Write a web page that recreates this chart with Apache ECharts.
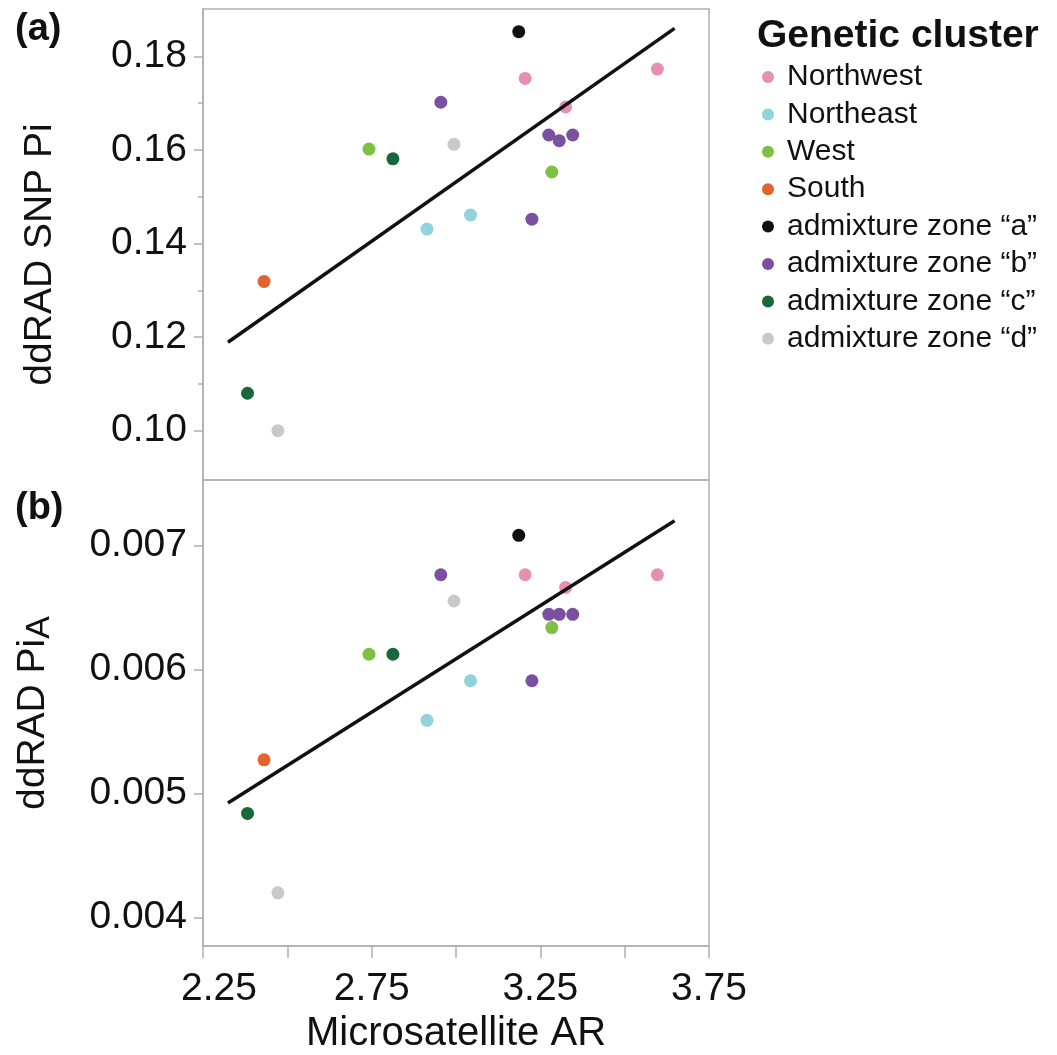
<!DOCTYPE html>
<html>
<head>
<meta charset="utf-8">
<script src="https://cdn.jsdelivr.net/npm/echarts@6/dist/echarts.min.js"></script>
<style>
  html, body { margin: 0; padding: 0; background: #fff; }
  #chart { width: 1057px; height: 1055px; }
</style>
</head>
<body>
<div id="chart"></div>
<script>
// cluster names and colours
const clusterNames = ['Northwest', 'Northeast', 'West', 'South',
  'admixture zone \u201ca\u201d', 'admixture zone \u201cb\u201d',
  'admixture zone \u201cc\u201d', 'admixture zone \u201cd\u201d'];
const clusterColors = ['#e68fb6', '#92d2dc', '#7dc042', '#e2642a', '#111111', '#7a50a0', '#18683a', '#c9c9c9'];

// microsatellite allelic richness per population, grouped by cluster
const northwestAR = [3.205, 3.597, 3.325];
const northeastAR = [2.914, 3.043];
const westAR = [2.742, 3.284];
const southAR = [2.431];
const zoneAAR = [3.186];
const zoneBAR = [2.955, 3.275, 3.306, 3.346, 3.225];
const zoneCAR = [2.813, 2.382];
const zoneDAR = [2.994, 2.472];

// (a) ddRAD SNP Pi
const northwestPi = [0.1753, 0.1773, 0.1692];
const northeastPi = [0.1431, 0.1461];
const westPi = [0.1602, 0.1553];
const southPi = [0.1319];
const zoneAPi = [0.1853];
const zoneBPi = [0.1702, 0.1632, 0.1620, 0.1632, 0.1452];
const zoneCPi = [0.1581, 0.1080];
const zoneDPi = [0.1612, 0.1000];

// (b) ddRAD PiA
const northwestPiA = [0.006765, 0.006765, 0.006663];
const northeastPiA = [0.005591, 0.005910];
const westPiA = [0.006124, 0.006339];
const southPiA = [0.005272];
const zoneAPiA = [0.007083];
const zoneBPiA = [0.006765, 0.006446, 0.006446, 0.006446, 0.005910];
const zoneCPiA = [0.006124, 0.004840];
const zoneDPiA = [0.006553, 0.004200];

// fitted lines (end points)
const fitAR = [2.324, 3.648];
const fitPi = [0.1189, 0.1860];
const fitPiA = [0.004924, 0.007200];

// ticks
const xTicks = [2.25, 2.75, 3.25, 3.75];
const piTicks = [0.10, 0.12, 0.14, 0.16, 0.18];
const piMinorTicks = [0.11, 0.13, 0.15, 0.17];
const piATicks = [0.004, 0.005, 0.006, 0.007];

const arGroups = [northwestAR, northeastAR, westAR, southAR, zoneAAR, zoneBAR, zoneCAR, zoneDAR];
const piGroups = [northwestPi, northeastPi, westPi, southPi, zoneAPi, zoneBPi, zoneCPi, zoneDPi];
const piAGroups = [northwestPiA, northeastPiA, westPiA, southPiA, zoneAPiA, zoneBPiA, zoneCPiA, zoneDPiA];

const FONT = '"Liberation Sans", Arial, Helvetica, sans-serif';
const AXIS_GRAY = '#b0b0b0';

const zip = (xs, ys) => xs.map((x, i) => [x, ys[i]]);

const series = [];
clusterNames.forEach((name, i) => {
  const common = {
    name,
    type: 'scatter',
    symbol: 'circle',
    symbolSize: 13,
    itemStyle: { color: clusterColors[i], opacity: 1 },
    z: 2
  };
  series.push({ ...common, xAxisIndex: 0, yAxisIndex: 0, data: zip(arGroups[i], piGroups[i]) });
  series.push({ ...common, xAxisIndex: 1, yAxisIndex: 2, data: zip(arGroups[i], piAGroups[i]) });
});
series.push({
  type: 'line', xAxisIndex: 0, yAxisIndex: 0, data: zip(fitAR, fitPi),
  symbol: 'none', lineStyle: { color: '#111', width: 3.5 }, z: 5
});
series.push({
  type: 'line', xAxisIndex: 1, yAxisIndex: 2, data: zip(fitAR, fitPiA),
  symbol: 'none', lineStyle: { color: '#111', width: 3.5 }, z: 5
});

const chart = echarts.init(document.getElementById('chart'));

const option = {
  animation: false,
  backgroundColor: '#fff',
  textStyle: { fontFamily: FONT },
  title: [
    { text: '(a)', left: 10, top: 6, textStyle: { fontFamily: FONT, fontSize: 38, fontWeight: 'bold', color: '#111' } },
    { text: '(b)', left: 10, top: 485, textStyle: { fontFamily: FONT, fontSize: 38, fontWeight: 'bold', color: '#111' } },
    { text: 'Genetic cluster', left: 752, top: 12, textStyle: { fontFamily: FONT, fontSize: 39, fontWeight: 'bold', color: '#111' } }
  ],
  legend: {
    data: clusterNames,
    orient: 'vertical',
    left: 757,
    top: 57,
    icon: 'circle',
    itemWidth: 12,
    itemHeight: 12,
    itemGap: 7.4,
    selectedMode: false,
    textStyle: { fontFamily: FONT, fontSize: 30, lineHeight: 30, color: '#111', padding: [0, 0, 0, 8] }
  },
  grid: [
    { left: 203, top: 9, width: 506, height: 471, show: true, borderColor: AXIS_GRAY, borderWidth: 1.5 },
    { left: 203, top: 480, width: 506, height: 467, show: true, borderColor: AXIS_GRAY, borderWidth: 1.5 }
  ],
  xAxis: [
    {
      gridIndex: 0, type: 'value', min: 2.25, max: 3.75,
      axisLine: { show: false }, axisTick: { show: false }, axisLabel: { show: false }, splitLine: { show: false }
    },
    {
      gridIndex: 1, type: 'value', min: 2.25, max: 3.75, interval: 0.25,
      name: 'Microsatellite AR', nameLocation: 'middle', nameGap: 68,
      nameTextStyle: { fontFamily: FONT, fontSize: 40, color: '#111' },
      axisLine: { show: true, lineStyle: { color: AXIS_GRAY, width: 1.5 } },
      axisTick: { show: true, length: 12, lineStyle: { color: AXIS_GRAY, width: 1.5 } },
      axisLabel: {
        customValues: xTicks, margin: 24, fontFamily: FONT, fontSize: 39, color: '#111',
        formatter: v => (v === xTicks[0] ? '{first|' + v.toFixed(2) + '}' : v.toFixed(2)),
        rich: { first: { fontFamily: FONT, fontSize: 39, color: '#111', padding: [0, 0, 0, 32] } }
      },
      splitLine: { show: false }
    }
  ],
  yAxis: [
    {
      gridIndex: 0, type: 'value', min: 0.08945, max: 0.19014,
      name: 'ddRAD SNP Pi', nameLocation: 'middle', nameGap: 143,
      nameTextStyle: { fontFamily: FONT, fontSize: 39, color: '#111', padding: [0, 20, 0, 0] },
      axisLine: { show: true, lineStyle: { color: AXIS_GRAY, width: 1.5 } },
      axisTick: { show: true, customValues: piTicks, length: 9, lineStyle: { color: AXIS_GRAY, width: 1.5 } },
      axisLabel: { customValues: piTicks, margin: 16, fontFamily: FONT, fontSize: 39, color: '#111', formatter: v => v.toFixed(2) },
      splitLine: { show: false }
    },
    {
      gridIndex: 0, type: 'value', min: 0.08945, max: 0.19014, position: 'left',
      axisLine: { show: false },
      axisTick: { show: true, customValues: piMinorTicks, length: 5, lineStyle: { color: AXIS_GRAY, width: 1.5 } },
      axisLabel: { show: false },
      splitLine: { show: false }
    },
    {
      gridIndex: 1, type: 'value', min: 0.003771, max: 0.007529,
      name: '{n|ddRAD Pi}{s|A}', nameLocation: 'middle', nameGap: 143,
      nameTextStyle: {
        fontFamily: FONT, fontSize: 39, color: '#111',
        rich: {
          n: { fontFamily: FONT, fontSize: 39, color: '#111', lineHeight: 46, verticalAlign: 'top' },
          s: { fontFamily: FONT, fontSize: 34, color: '#111', lineHeight: 46, verticalAlign: 'top', padding: [9, 0, 0, 0] }
        }
      },
      axisLine: { show: true, lineStyle: { color: AXIS_GRAY, width: 1.5 } },
      axisTick: { show: true, customValues: piATicks, length: 9, lineStyle: { color: AXIS_GRAY, width: 1.5 } },
      axisLabel: { customValues: piATicks, margin: 16, fontFamily: FONT, fontSize: 39, color: '#111', formatter: v => v.toFixed(3) },
      splitLine: { show: false }
    }
  ],
  series
};

chart.setOption(option);
</script>
</body>
</html>
